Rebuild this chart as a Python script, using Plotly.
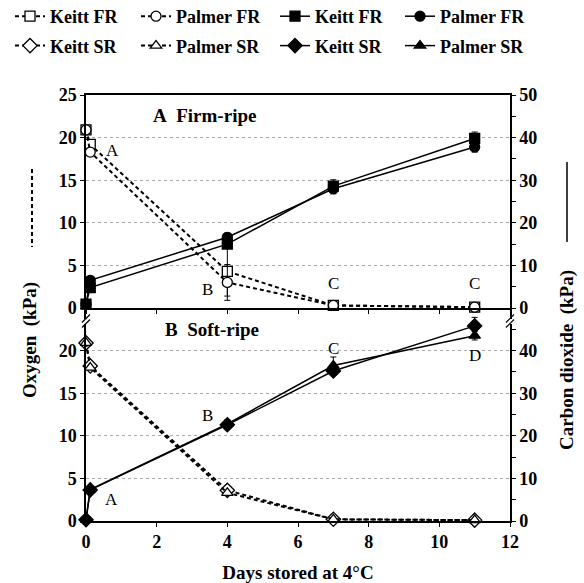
import plotly.graph_objects as go

# ---------------- data ----------------
days = [0, 0.12, 4, 7, 11]

o2_keitt_fr = [20.9, 19.2, 4.3, 0.3, 0.1]
o2_palmer_fr = [20.9, 18.3, 3.0, 0.3, 0.1]
co2_keitt_fr = [0.9, 4.8, 15.0, 28.6, 39.8]
co2_palmer_fr = [0.9, 6.5, 16.6, 28.0, 37.8]

o2_keitt_sr = [20.9, 18.2, 3.6, 0.2, 0.1]
o2_palmer_sr = [20.9, 18.0, 3.3, 0.2, 0.1]
co2_keitt_sr = [0.3, 7.3, 22.6, 35.2, 45.8]
co2_palmer_sr = [0.3, 7.4, 22.8, 36.5, 43.5]

err_o2_keitt_fr = [0, 0, 2.9, 0, 0]
err_o2_palmer_fr = [0, 0, 2.1, 0, 0]
err_co2_keitt_fr = [0, 0, 1.0, 1.5, 1.5]
err_co2_palmer_fr = [0, 0, 1.0, 1.2, 1.2]
err_co2_keitt_sr = [0, 0, 1.0, 1.0, 2.0]
err_co2_palmer_sr = [0, 0, 1.0, 2.0, 1.0]

x_ticks = [0, 2, 4, 6, 8, 10, 12]
o2_ticks_top = [0, 5, 10, 15, 20, 25]
o2_ticks_bottom = [0, 5, 10, 15, 20]
co2_ticks_top = [0, 10, 20, 30, 40, 50]
co2_ticks_bottom = [0, 10, 20, 30, 40]

letters_top = [(0.76, 18.5, "A"), (3.45, 2.2, "B"), (7.0, 2.9, "C"), (11.0, 2.9, "C")]
letters_bottom = [(0.73, 2.5, "A"), (3.44, 12.4, "B"), (7.0, 20.2, "C"), (11.0, 19.4, "D")]

# ---------------- layout helpers ----------------
W, H = 584, 583
L, R, T, B = 86, 510, 95, 521
PW, PH = R - L, B - T


def px(xp):
    return (xp - L) / PW


def py(yp):
    return (B - yp) / PH


SERIF = "Liberation Serif"
BOLD = dict(family=SERIF, size=18, color="black", weight="bold")
DASH = "4px,3px"
NB = "\u00a0"

fig = go.Figure()


def add(x, y, xa, ya, name, symbol, filled, dashed, legend, group, err=None):
    fig.add_trace(go.Scatter(
        x=x, y=y, xaxis=xa, yaxis=ya, name=name, mode="lines+markers",
        legend=legend, legendgroup=group, cliponaxis=False,
        line=dict(color="black", width=2 if dashed else 1.5, dash=DASH if dashed else "solid"),
        marker=dict(symbol=symbol, size=10 if "diamond" not in symbol else 11,
                    color="black" if filled else "white",
                    line=dict(color="black", width=1.3)),
        error_y=dict(type="data", array=err, visible=True, color="black",
                     thickness=1, width=3) if err else None,
    ))


# top panel (Firm-ripe): x2 / y3 (O2), y4 (CO2)
add(days, o2_keitt_fr, "x2", "y3", "Keitt FR", "square", False, True, "legend", "g1", err_o2_keitt_fr)
add(days, o2_palmer_fr, "x2", "y3", "Palmer FR", "circle", False, True, "legend2", "g2", err_o2_palmer_fr)
add(days, co2_keitt_fr, "x2", "y4", "Keitt FR", "square", True, False, "legend3", "g3", err_co2_keitt_fr)
add(days, co2_palmer_fr, "x2", "y4", "Palmer FR", "circle", True, False, "legend4", "g4", err_co2_palmer_fr)
# bottom panel (Soft-ripe): x / y (O2), y2 (CO2)
add(days, o2_keitt_sr, "x", "y", "Keitt SR", "diamond", False, True, "legend", "g5")
add(days, o2_palmer_sr, "x", "y", "Palmer SR", "triangle-up", False, True, "legend2", "g6")
add(days, co2_keitt_sr, "x", "y2", "Keitt SR", "diamond", True, False, "legend3", "g7", err_co2_keitt_sr)
add(days, co2_palmer_sr, "x", "y2", "Palmer SR", "triangle-up", True, False, "legend4", "g8", err_co2_palmer_sr)

axis_common = dict(showline=True, linecolor="black", linewidth=1.5, tickfont=BOLD,
                   zeroline=False, ticklen=4, tickwidth=1.3, tickcolor="black")
grid = dict(showgrid=True, gridcolor="#aaaaaa", griddash="dot", gridwidth=1)

legend_common = dict(font=dict(family=SERIF, size=18, color="black", weight="bold"),
                     bgcolor="rgba(0,0,0,0)", xanchor="left", yanchor="top",
                     orientation="v", tracegroupgap=3, itemclick=False)

LEG_TOP = -2
fig.update_layout(
    width=W, height=H, plot_bgcolor="white", paper_bgcolor="white",
    margin=dict(l=L, r=W - R, t=T, b=H - B, autoexpand=False),
    showlegend=True,
    legend=dict(x=px(10), y=py(LEG_TOP), **legend_common),
    legend2=dict(x=px(136), y=py(LEG_TOP), **legend_common),
    legend3=dict(x=px(275), y=py(LEG_TOP), **legend_common),
    legend4=dict(x=px(400), y=py(LEG_TOP), **legend_common),
    xaxis=dict(domain=[0, 1], anchor="y", range=[0, 12], tickvals=x_ticks, ticks="outside",
               title=dict(text="Days stored at 4°C",
                          font=dict(family=SERIF, size=19, color="black", weight="bold"), standoff=14),
               showgrid=False, **axis_common),
    xaxis2=dict(domain=[0, 1], anchor="y3", range=[0, 12], tickvals=x_ticks, ticks="outside",
                showticklabels=False, mirror=True, showgrid=False, **axis_common),
    yaxis=dict(domain=[0, 0.5], anchor="x", range=[0, 25], tickvals=o2_ticks_bottom, ticks="outside",
               **grid, **axis_common),
    yaxis2=dict(domain=[0, 0.5], anchor="x", overlaying="y", side="right", range=[0, 50],
                tickvals=co2_ticks_bottom, ticks="outside", showgrid=False,
                minor=dict(tickvals=[5, 15, 25, 35, 45], ticks="outside", ticklen=4, tickcolor="black"),
                **axis_common),
    yaxis3=dict(domain=[0.5, 1], anchor="x2", range=[0, 25], tickvals=o2_ticks_top, ticks="outside",
                **grid, **axis_common),
    yaxis4=dict(domain=[0.5, 1], anchor="x2", overlaying="y3", side="right", range=[0, 50],
                tickvals=co2_ticks_top, ticks="outside", showgrid=False,
                minor=dict(tickvals=[5, 15, 25, 35, 45], ticks="outside", ticklen=4, tickcolor="black"),
                **axis_common),
)

ann = []
for x, y, t in letters_top:
    ann.append(dict(x=x, y=y, xref="x2", yref="y3", text=t, showarrow=False,
                    font=dict(family=SERIF, size=17, color="black")))
for x, y, t in letters_bottom:
    ann.append(dict(x=x, y=y, xref="x", yref="y", text=t, showarrow=False,
                    font=dict(family=SERIF, size=17, color="black")))
ann.append(dict(x=3.34, y=22.65, xref="x2", yref="y3", text="A" + NB + NB + "Firm-ripe", showarrow=False,
                font=dict(family=SERIF, size=19, color="black", weight="bold")))
ann.append(dict(x=3.57, y=22.5, xref="x", yref="y", text="B" + NB + NB + "Soft-ripe", showarrow=False,
                font=dict(family=SERIF, size=19, color="black", weight="bold")))
ann.append(dict(x=px(30), y=py(340), xref="paper", yref="paper", text="Oxygen" + NB + NB + "(kPa)",
                textangle=-90, showarrow=False, xanchor="center", yanchor="middle",
                font=dict(family=SERIF, size=19, color="black", weight="bold")))
ann.append(dict(x=px(567), y=py(360), xref="paper", yref="paper", text="Carbon dioxide" + NB + NB + "(kPa)",
                textangle=-90, showarrow=False, xanchor="center", yanchor="middle",
                font=dict(family=SERIF, size=19, color="black", weight="bold")))
fig.update_layout(annotations=ann)

shapes = [
    dict(type="line", xref="paper", yref="paper", x0=px(32), x1=px(32), y0=py(169), y1=py(247),
         line=dict(color="black", width=2, dash="4px,3px")),
    dict(type="line", xref="paper", yref="paper", x0=px(567), x1=px(567), y0=py(162), y1=py(242),
         line=dict(color="black", width=1.5)),
]
for bx in (L, R):
    shapes.append(dict(type="rect", xref="paper", yref="paper", x0=px(bx - 3), x1=px(bx + 3),
                       y0=py(324), y1=py(319), fillcolor="white", line=dict(width=0)))
    for off in (-2.5, 2.5):
        shapes.append(dict(type="line", xref="paper", yref="paper",
                           x0=px(bx - 4), y0=py(321 + off + 4), x1=px(bx + 4), y1=py(321 + off - 4),
                           line=dict(color="black", width=1.2)))
fig.update_layout(shapes=shapes)

fig.write_html("out.html")
